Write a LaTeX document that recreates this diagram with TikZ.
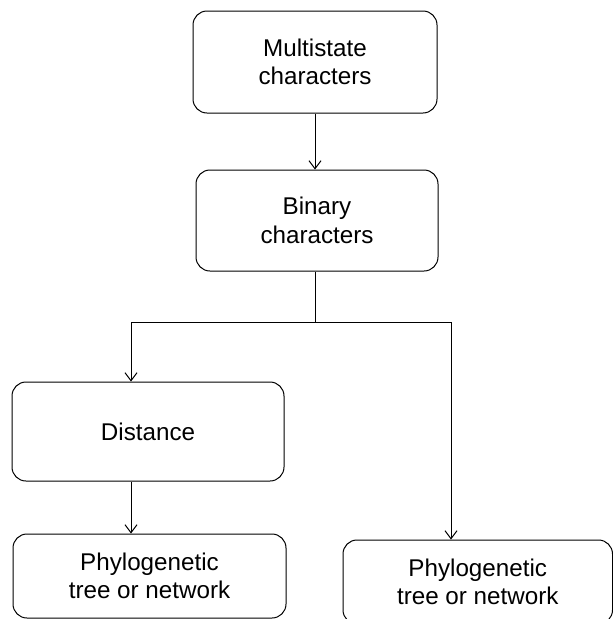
\documentclass[tikz,border=0pt]{standalone}
\usepackage{fontspec}
\setmainfont{Liberation Sans}
\usetikzlibrary{arrows.meta}
\begin{document}
\begin{tikzpicture}[x=1pt,y=-1pt,
  box/.style={draw=black,line width=1pt,rounded corners=14pt,align=center,
    inner sep=0pt,font=\fontsize{24.2}{28.5}\selectfont},
  conn/.style={draw=black,line width=1pt},
  arr/.style={conn,-{Straight Barb[length=8pt,width=12pt,line width=1pt]}}]
\clip (0,0) rectangle (613,619);
\fill[white] (0,0) rectangle (613,619);
\node[box,minimum width=244pt,minimum height=102pt] (A) at (315,62) {Multistate\\characters};
\node[box,minimum width=242pt,minimum height=101pt] (B) at (317,220.5) {Binary\\characters};
\node[box,minimum width=272pt,minimum height=99pt] (C) at (148,431.5) {Distance};
\node[box,minimum width=273pt,minimum height=84pt] (D) at (149.5,576) {Phylogenetic\\tree or network};
\node[box,minimum width=269.5pt,minimum height=84pt] (E) at (477.75,582) {Phylogenetic\\tree or network};
\coordinate (j) at (315,322);
\coordinate (cl) at (131,322);
\coordinate (cr) at (451,322);
\draw[arr] (A.south) -- (A.south |- B.north);
\draw[conn] (B.south -| j) -- (j);
\draw[arr] (j) -- (cl) -- (cl |- C.north);
\draw[arr] (j) -- (cr) -- (cr |- E.north);
\draw[arr] (cl |- C.south) -- (cl |- D.north);
\end{tikzpicture}
\end{document}
